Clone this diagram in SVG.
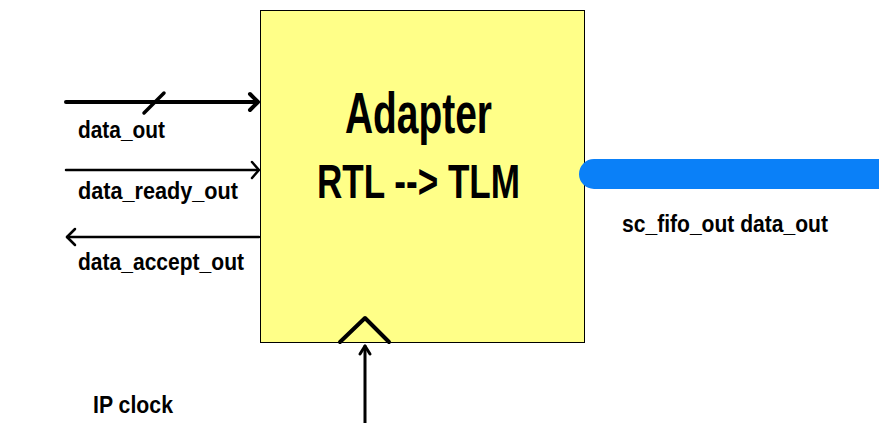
<svg xmlns="http://www.w3.org/2000/svg" width="879" height="423" viewBox="0 0 879 423">
  <style>
    .lbl { font-family: "Liberation Sans", Arial, sans-serif; font-weight: bold; fill: #000; }
    .wire { stroke: #000; fill: none; stroke-linecap: round; stroke-linejoin: round; }
  </style>
  <rect width="879" height="423" fill="#fff"/>

  <!-- Adapter block -->
  <g id="adapter">
    <rect x="260.5" y="10.5" width="324" height="332" fill="#FFFF88" stroke="#000" stroke-width="1"/>
    <text class="lbl" x="345" y="133" font-size="58" textLength="147" lengthAdjust="spacingAndGlyphs">Adapter</text>
    <text class="lbl" x="317" y="198" font-size="49" textLength="203" lengthAdjust="spacingAndGlyphs">RTL --&gt; TLM</text>
    <!-- clock input marker -->
    <polyline class="wire" points="340,342 365,318 389,342" stroke-width="4" stroke-linecap="butt"/>
  </g>

  <!-- TLM output port -->
  <g id="fifo-out">
    <path d="M879,159 H594 A14.5,14.5 0 0 0 594,189 H879 Z" fill="#0A80F8"/>
    <text class="lbl" x="622" y="232" font-size="23" textLength="206" lengthAdjust="spacingAndGlyphs">sc_fifo_out data_out</text>
  </g>

  <!-- RTL side signals -->
  <g id="connectors">
    <g id="data-out">
      <line class="wire" x1="66" y1="102" x2="257" y2="102" stroke-width="4" stroke-linecap="butt"/>
      <polyline class="wire" points="250,94 258,102 250,110" stroke-width="4"/>
      <line class="wire" x1="144" y1="113" x2="164" y2="93" stroke-width="3.5"/>
    </g>
    <g id="data-ready-out">
      <line class="wire" x1="66" y1="170" x2="258" y2="170" stroke-width="2.5" stroke-linecap="butt"/>
      <polyline class="wire" points="252,162 259,170 252,178" stroke-width="2.5"/>
    </g>
    <g id="data-accept-out">
      <line class="wire" x1="67" y1="237" x2="259" y2="237" stroke-width="2.5" stroke-linecap="butt"/>
      <polyline class="wire" points="75,229 67,237 75,245" stroke-width="2.5"/>
    </g>
    <g id="ip-clock">
      <line class="wire" x1="365" y1="423" x2="365" y2="346" stroke-width="3" stroke-linecap="butt"/>
      <polyline class="wire" points="360,354 365,346 370,354" stroke-width="3"/>
    </g>
  </g>

  <g id="labels">
    <text class="lbl" x="78" y="138" font-size="24" textLength="87" lengthAdjust="spacingAndGlyphs">data_out</text>
    <text class="lbl" x="78" y="199" font-size="24" textLength="160" lengthAdjust="spacingAndGlyphs">data_ready_out</text>
    <text class="lbl" x="78" y="270" font-size="24" textLength="166" lengthAdjust="spacingAndGlyphs">data_accept_out</text>
    <text class="lbl" x="93" y="413" font-size="24" textLength="80" lengthAdjust="spacingAndGlyphs">IP clock</text>
  </g>
</svg>
